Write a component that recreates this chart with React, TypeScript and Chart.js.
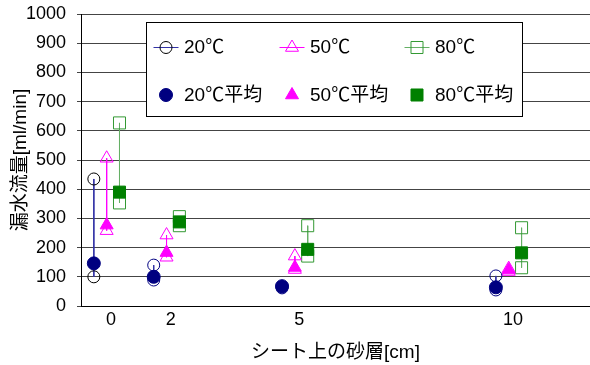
import React, { useEffect, useRef } from 'react';
import { Chart, registerables } from 'chart.js';
import { drawPoint } from 'chart.js/helpers';

Chart.register(...registerables);

// ---- data ----
const layerLabels = ['0', '2', '5', '10'];
const layerPos = [0.6, 2, 5, 10];
const seriesOffset = [-0.3, 0, 0.3];
const labelShift = 0.1;

const t20 = [[435, 100], [140, 89], [65, 62], [103, 55]];
const t20Avg = [146, 100, 68, 64];
const t50 = [[506, 258], [243, 167], [171, 125], [128, 118]];
const t50Avg = [277, 183, 132, 123];
const t80 = [[627, 353], [306, 275], [275, 171], [268, 131]];
const t80Avg = [390, 288, 194, 182];

const seriesNames = ['20℃', '50℃', '80℃'];
const avgNames = ['20℃平均', '50℃平均', '80℃平均'];

const yTitle = '漏水流量[ml/min]';
const xTitle = 'シート上の砂層[cm]';

const FONT = '"Liberation Sans", "Noto Sans CJK JP", sans-serif';

const NAVY = '#000080';
const MAGENTA = '#ff00ff';
const GREEN = '#008000';

const rawStyles = [
  { pointStyle: 'circle', radius: 6, border: (g: number) => (g === 0 ? '#000000' : NAVY), line: '#3333a6', legendBorder: '#000000' },
  { pointStyle: 'triangle', radius: 7.5, border: () => MAGENTA, line: MAGENTA, legendBorder: MAGENTA },
  { pointStyle: 'rect', radius: 8.5, border: () => '#339933', line: '#66b066', legendBorder: '#339933' },
];
const avgStyles = [
  { pointStyle: 'circle', radius: 6.5, color: NAVY },
  { pointStyle: 'triangle', radius: 7.5, color: MAGENTA },
  { pointStyle: 'rect', radius: 8.5, color: GREEN },
];

function rawPoints(groups: number[][], off: number) {
  const out: any[] = [];
  groups.forEach((vals, g) => {
    vals.forEach((v) => out.push({ x: layerPos[g] + off, y: v, g }));
    out.push({ x: layerPos[g] + off, y: null, g });
  });
  return out;
}
function avgPoints(vals: number[], off: number) {
  return vals.map((v, g) => ({ x: layerPos[g] + off, y: v, g }));
}

// stretch the plot area to the right edge of the canvas
const fullWidthPlugin = {
  id: 'fullWidth',
  afterLayout(chart: any) {
    const ca = chart.chartArea;
    const x = chart.scales.x;
    const target = chart.width;
    if (ca.right !== target) {
      ca.right = target;
      ca.width = ca.right - ca.left;
      x.right = target;
      x.width = x.right - x.left;
      x.configure();
    }
  },
};

const legendPlugin = {
  id: 'boxLegend',
  afterDatasetsDraw(chart: any) {
    const ctx = chart.ctx as CanvasRenderingContext2D;
    ctx.save();
    ctx.fillStyle = '#ffffff';
    ctx.strokeStyle = '#000000';
    ctx.lineWidth = 1;
    ctx.fillRect(146.5, 22.5, 376, 94);
    ctx.strokeRect(146.5, 22.5, 376, 94);
    const cols = [166, 292, 417];
    const rows = [47, 95];
    ctx.font = `19px ${FONT}`;
    ctx.textBaseline = 'middle';
    ctx.textAlign = 'left';
    for (let i = 0; i < 3; i++) {
      const cx = cols[i];
      const rs = rawStyles[i];
      ctx.strokeStyle = rs.line;
      ctx.lineWidth = 1;
      ctx.beginPath();
      ctx.moveTo(cx - 12.5, rows[0] + 0.5);
      ctx.lineTo(cx + 12.5, rows[0] + 0.5);
      ctx.stroke();
      ctx.fillStyle = 'rgba(0,0,0,0)';
      ctx.strokeStyle = rs.legendBorder;
      drawPoint(ctx, { pointStyle: rs.pointStyle as any, radius: rs.radius, rotation: 0, borderWidth: 1 }, cx, rows[0] + 0.5);
      ctx.fillStyle = '#000000';
      ctx.fillText(seriesNames[i], cx + 18, rows[0] + 1);
      const as = avgStyles[i];
      ctx.fillStyle = as.color;
      ctx.strokeStyle = as.color;
      drawPoint(ctx, { pointStyle: as.pointStyle as any, radius: as.radius, rotation: 0, borderWidth: 1 }, cx, rows[1]);
      ctx.fillStyle = '#000000';
      ctx.fillText(avgNames[i], cx + 18, rows[1] + 1);
    }
    ctx.restore();
  },
};

export default function App() {
  const ref = useRef<HTMLCanvasElement | null>(null);
  useEffect(() => {
    document.body.style.margin = '0';
    const canvas = ref.current!;
    const rawGroups = [t20, t50, t80];
    const avgGroups = [t20Avg, t50Avg, t80Avg];
    const datasets: any[] = [];
    avgGroups.forEach((vals, i) => {
      const st = avgStyles[i];
      datasets.push({
        label: avgNames[i],
        data: avgPoints(vals, seriesOffset[i]),
        showLine: false,
        pointStyle: st.pointStyle,
        pointRadius: st.radius,
        pointHoverRadius: st.radius,
        pointBackgroundColor: st.color,
        pointBorderColor: st.color,
        pointBorderWidth: 1,
        order: 0,
      });
    });
    rawGroups.forEach((groups, i) => {
      const st = rawStyles[i];
      datasets.push({
        label: seriesNames[i],
        data: rawPoints(groups, seriesOffset[i]),
        showLine: true,
        spanGaps: false,
        borderColor: st.line,
        borderWidth: 1,
        pointStyle: st.pointStyle,
        pointRadius: st.radius,
        pointHoverRadius: st.radius,
        pointBackgroundColor: 'rgba(255,255,255,0)',
        pointBorderColor: (c: any) => st.border(c.raw ? c.raw.g : 1),
        pointBorderWidth: 1,
        order: 1,
      });
    });

    const chart = new Chart(canvas, {
      type: 'scatter',
      data: { datasets },
      options: {
        animation: false,
        responsive: false,
        events: [],
        layout: { padding: { top: 14, right: 0, bottom: 0, left: 0 } },
        plugins: { legend: { display: false }, tooltip: { enabled: false } },
        scales: {
          x: {
            type: 'linear',
            min: 0,
            max: 11.9,
            afterBuildTicks: (scale: any) => {
              scale.ticks = layerPos.map((p) => ({ value: p + labelShift }));
            },
            afterFit: (scale: any) => {
              scale.height = 59;
              scale.paddingLeft = 0;
              scale.paddingRight = 0;
            },
            grid: { display: false, drawTicks: false },
            border: { display: true, color: '#000000', width: 1 },
            ticks: {
              padding: 3,
              maxRotation: 0,
              autoSkip: false,
              color: '#000000',
              font: { family: FONT, size: 18 },
              callback: (_v: any, i: number) => layerLabels[i],
            },
            title: {
              display: true,
              text: xTitle,
              color: '#000000',
              font: { family: FONT, size: 19 },
              padding: { top: 0, bottom: 1 },
            },
          },
          y: {
            type: 'linear',
            min: 0,
            max: 1000,
            afterFit: (scale: any) => {
              scale.width = 81;
              scale.paddingTop = 0;
              scale.paddingBottom = 0;
            },
            grid: { color: '#444444', lineWidth: 1, tickLength: 4, drawTicks: true },
            border: { display: true, color: '#000000', width: 1 },
            ticks: {
              stepSize: 100,
              padding: 11,
              color: '#000000',
              font: { family: FONT, size: 18 },
              callback: (v: any) => String(v),
            },
            title: {
              display: true,
              text: yTitle,
              color: '#000000',
              font: { family: FONT, size: 19 },
              padding: { top: 9, bottom: 0 },
            },
          },
        },
      },
      plugins: [fullWidthPlugin, legendPlugin],
    } as any);
    return () => chart.destroy();
  }, []);
  return <canvas ref={ref} width={590} height={365} style={{ display: 'block' }} />;
}
